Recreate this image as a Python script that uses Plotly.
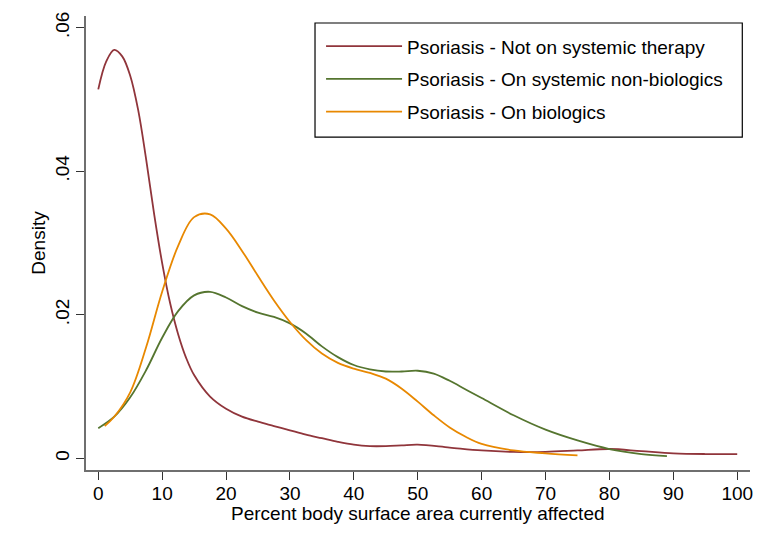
import plotly.graph_objects as go

# Kernel density curves
x_none = [0, 1.25, 2.5, 3.75, 5, 6.25, 7.5, 8.75, 10, 11.25, 12.5, 13.75, 15, 17.5, 20, 22.5,
          25, 27.5, 30, 32.5, 35, 37.5, 40, 42.5, 45, 47.5, 50, 55, 60, 65, 70, 75, 80, 85,
          90, 95, 100]
y_none = [0.0514, 0.0553, 0.0569, 0.0560, 0.0533, 0.0485, 0.0416, 0.0340, 0.0272, 0.0216,
          0.0173, 0.0140, 0.0116, 0.0086, 0.0069, 0.0058, 0.0051, 0.0045, 0.0039, 0.0033,
          0.0028, 0.0023, 0.0019, 0.0017, 0.0017, 0.0018, 0.0019, 0.0015, 0.0011, 0.0009,
          0.0009, 0.0011, 0.0013, 0.0010, 0.0007, 0.0006, 0.0006]

x_nonbio = [0, 2.5, 5, 7.5, 10, 12.5, 15, 17.5, 20, 22.5, 25, 27.5, 30, 32.5, 35, 37.5, 40,
            42.5, 45, 47.5, 50, 52.5, 55, 57.5, 60, 65, 70, 75, 80, 85, 89]
y_nonbio = [0.0042, 0.0058, 0.0085, 0.0123, 0.0168, 0.0205, 0.0227, 0.0232, 0.0224, 0.0212,
            0.0203, 0.0197, 0.0188, 0.0174, 0.0156, 0.0141, 0.0130, 0.0124, 0.0121, 0.0121,
            0.0122, 0.0118, 0.0108, 0.0096, 0.0084, 0.0060, 0.0040, 0.0025, 0.0013, 0.0006,
            0.0003]

x_bio = [1, 2.5, 5, 7.5, 10, 12.5, 15, 17.5, 20, 22.5, 25, 27.5, 30, 32.5, 35, 37.5,
         40, 42.5, 45, 47.5, 50, 52.5, 55, 57.5, 60, 65, 70, 75]
y_bio = [0.0045, 0.0058, 0.0092, 0.0155, 0.0232, 0.0296, 0.0336, 0.0340, 0.0320,
         0.0289, 0.0254, 0.0220, 0.0190, 0.0165, 0.0146, 0.0133, 0.0125, 0.0119, 0.0111,
         0.0097, 0.0079, 0.0060, 0.0043, 0.0030, 0.0020, 0.0011, 0.0007, 0.0004]

names = ["Psoriasis - Not on systemic therapy",
         "Psoriasis - On systemic non-biologics",
         "Psoriasis - On biologics"]
colors = ["rgb(144,53,59)", "rgb(85,117,47)", "rgb(232,136,0)"]

x_ticks = list(range(0, 101, 10))
y_ticks = [0, 0.02, 0.04, 0.06]
y_ticktext = ["0", ".02", ".04", ".06"]
x_title = "Percent body surface area currently affected"
y_title = "Density"

FONT = "Liberation Sans, Arial, sans-serif"

fig = go.Figure()
for i, (xs, ys) in enumerate([(x_none, y_none), (x_nonbio, y_nonbio), (x_bio, y_bio)]):
    fig.add_trace(go.Scatter(x=xs, y=ys, mode="lines", name=names[i],
                             legendgroup=f"g{i}",
                             line=dict(color=colors[i], width=1.8, shape="spline", smoothing=1.0)))

fig.update_layout(
    width=769, height=535,
    margin=dict(l=86, r=19, t=14, b=65),
    paper_bgcolor="white", plot_bgcolor="white",
    font=dict(family=FONT, size=19, color="black"),
    showlegend=True,
    legend=dict(x=0.354, y=0.975, xanchor="left", yanchor="top",
                bgcolor="rgba(0,0,0,0)", borderwidth=0,
                font=dict(family=FONT, size=19, color="black"),
                tracegroupgap=5, itemwidth=76),
    shapes=[dict(type="rect", xref="paper", yref="paper",
                 x0=0.3449, x1=0.9884, y0=0.7331, y1=0.9846,
                 line=dict(color="black", width=1.2), fillcolor="rgba(0,0,0,0)", layer="above")],
    annotations=[dict(text=x_title, xref="paper", yref="paper", x=0.5, y=-0.0965,
                      xanchor="center", yanchor="middle", showarrow=False,
                      font=dict(family=FONT, size=19, color="black"))],
)

fig.update_xaxes(range=[-1.92, 102.0], tickvals=x_ticks, showgrid=False, zeroline=False,
                 showline=True, linecolor="#6f6f6f", linewidth=1.6,
                 ticks="outside", ticklen=8, tickcolor="#333", tickwidth=1.2,
                 ticklabelstandoff=-3,
                 tickfont=dict(size=19))
fig.update_yaxes(range=[-0.001624, 0.06162], tickvals=y_ticks, ticktext=y_ticktext,
                 showgrid=False, zeroline=False,
                 showline=True, linecolor="#6f6f6f", linewidth=1.6,
                 ticks="outside", ticklen=8, tickcolor="#333", tickwidth=1.2,
                 tickangle=-90, tickfont=dict(size=19),
                 title=dict(text=y_title, font=dict(size=19), standoff=1))

fig.write_html("out.html")
